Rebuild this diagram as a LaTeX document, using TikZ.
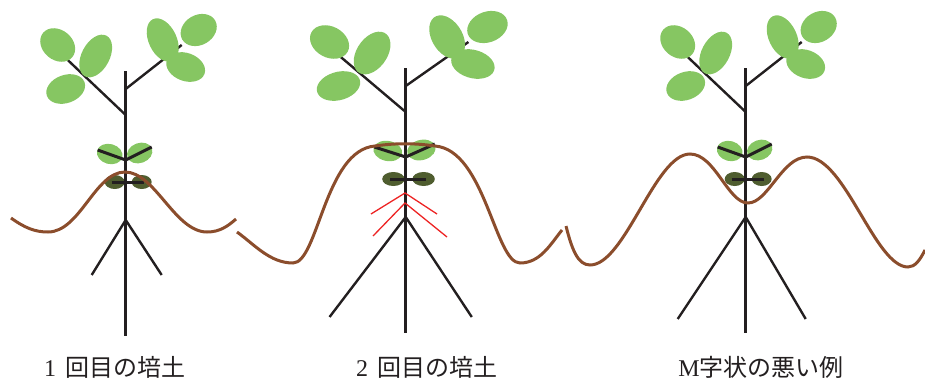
\documentclass[tikz,border=0pt]{standalone}
\usepackage{fontspec}
\setmainfont{Liberation Serif}
\newfontfamily\cjk{Noto Sans CJK JP}
\usepackage{xcolor}
\definecolor{leafgreen}{RGB}{134,198,98}
\definecolor{seedolive}{RGB}{79,93,47}
\definecolor{soilbrown}{RGB}{139,77,44}
\definecolor{stemblack}{RGB}{35,31,32}
\definecolor{cutred}{RGB}{237,36,36}

\begin{document}
\begin{tikzpicture}[
    x=1pt, y=-1pt,
    stem/.style={draw=stemblack, line width=3.4pt},
    twig/.style={draw=stemblack, line width=2.4pt},
    leaf/.style={fill=leafgreen},
    seedleaf/.style={fill=seedolive},
    soil/.style={draw=soilbrown, line width=3pt},
    cut/.style={draw=cutred, line width=1.3pt},
    caption/.style={font=\fontsize{24}{26}\selectfont, text=stemblack, inner sep=0pt, anchor=base},
    pics/plant/.style n args={3}{code={
        \draw[twig] (0,112) -- (-58,57) (0,86) -- (56,42);
        \draw[twig] (0,217) -- (-#1,#3) (0,217) -- (#2,#3);
        \fill[leaf] (-68,42) ellipse [x radius=19, y radius=15, rotate=-40];
        \fill[leaf] (-30,53) ellipse [x radius=23, y radius=14, rotate=62];
        \fill[leaf] (-60,86) ellipse [x radius=20, y radius=14, rotate=20];
        \fill[leaf] (37,37) ellipse [x radius=23, y radius=14, rotate=-65];
        \fill[leaf] (73,27) ellipse [x radius=19, y radius=15, rotate=30];
        \fill[leaf] (60,64) ellipse [x radius=20, y radius=14, rotate=-20];
        \fill[leaf] (-16,151) ellipse [x radius=13, y radius=10, rotate=-15];
        \fill[leaf] (14,150) ellipse [x radius=13, y radius=10, rotate=20];
        \fill[seedleaf] (-11,179) ellipse [x radius=10, y radius=7];
        \fill[seedleaf] (16,179) ellipse [x radius=10, y radius=7];
        \draw[stem] (0,68) -- (0,333);
        \draw[twig, line width=3pt] (-28,147) -- (0,157) -- (26,144);
        \draw[twig, line width=3pt] (-14,179) -- (18,179);
    }}
]
\useasboundingbox (0,0) rectangle (925,381);

\pic at (125.7,3) {plant={34}{36}{272}};
\pic[xscale=1.12] at (405.7,0) {plant={68}{59}{317}};
\pic at (745.7,0) {plant={68}{60}{319}};

\draw[cut] (371,214) -- (405,193) -- (437,214);
\draw[cut] (373,236) -- (405,203) -- (447,237);

\draw[soil] (11,218) .. controls (25,228) and (35,232) .. (48,232)
    .. controls (80,232) and (95,172) .. (125,172)
    .. controls (155,172) and (175,232) .. (207,232)
    .. controls (220,232) and (228,226) .. (236,219);
\draw[soil] (237,232) .. controls (255,245) and (270,263) .. (293,263)
    .. controls (318,263) and (325,150) .. (375,146)
    .. controls (395,143) and (415,143) .. (435,146)
    .. controls (485,150) and (495,263) .. (520,263)
    .. controls (540,263) and (550,245) .. (562,230);
\draw[soil] (566,226) .. controls (572,250) and (578,265) .. (590,265)
    .. controls (625,265) and (655,154) .. (690,154)
    .. controls (715,154) and (728,203) .. (748,203)
    .. controls (768,203) and (782,157) .. (807,157)
    .. controls (845,157) and (875,267) .. (908,267)
    .. controls (915,267) and (920,260) .. (925,250);

\node[caption] (first) at (115,376) {1\hspace{0.4em}{\cjk 回目の培土}};
\node[caption] (second) at (427,376) {2\hspace{0.4em}{\cjk 回目の培土}};
\node[caption] (mshape) at (761,376) {M{\cjk 字状の悪い例}};
\end{tikzpicture}
\end{document}
